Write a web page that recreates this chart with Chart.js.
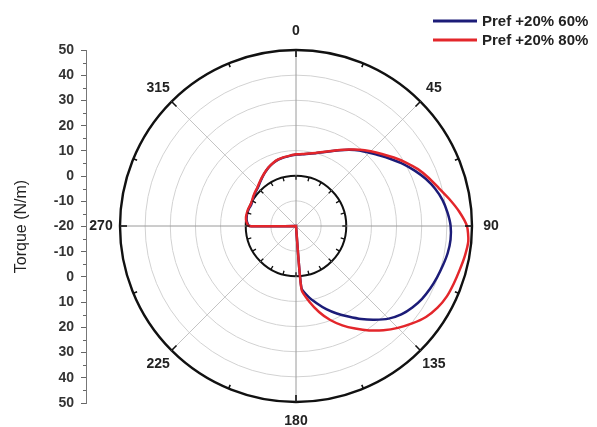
<!DOCTYPE html>
<html>
<head>
<meta charset="utf-8">
<script src="https://cdn.jsdelivr.net/npm/chart.js@4.4.0/dist/chart.umd.min.js"></script>
<style>
  html, body { margin: 0; padding: 0; background: #fff; }
  #wrap { width: 597px; height: 427px; }
</style>
</head>
<body>
<div id="wrap"><canvas id="c" width="597" height="427"></canvas></div>
<script>
// Rotor angle (degrees, clockwise from top)
const angles = [
  0, 5, 10, 15, 20, 25, 30, 35, 40, 45, 50, 55, 60, 65, 70, 75, 80, 85,
  90, 95, 100, 105, 110, 115, 120, 125, 130, 135, 140, 145, 150, 155, 160, 165, 170, 175,
  180, 185, 190, 195, 200, 205, 210, 215, 220, 225, 230, 235, 240, 245, 250, 255, 260, 265,
  270, 275, 280, 285, 290, 295, 300, 305, 310, 315, 320, 325, 330, 335, 340, 345, 350, 355
];

// Torque (N/m) for each angle
const pref60 = [
  8.4, 8.6, 9.2, 10.0, 11.2, 12.8, 14.8, 17.0, 19.2, 21.2, 23.6, 26.3, 29.3, 32.1, 34.9, 37.3, 39.2, 40.5,
  41.5, 41.7, 41.3, 40.5, 39.7, 38.9, 37.9, 36.5, 34.7, 32.1, 28.7, 25.2, 21.6, 18.4, 15.2, 11.8, 8.6, 4.7,
  -20, -20, -20, -20, -20, -20, -20, -20, -20, -20, -20, -20, -20, -20, -20, -20, -20, -20,
  -1.5, -0.4, 0.0, 0.0, 0.0, -0.3, 0.0, 0.5, 1.0, 1.5, 2.4, 3.5, 4.6, 5.7, 6.6, 7.3, 7.7, 8.0
];
const pref80 = [
  8.5, 8.7, 9.3, 10.1, 11.3, 12.9, 14.9, 17.1, 19.6, 22.0, 24.6, 27.5, 30.5, 33.5, 36.1, 38.7, 41.9, 45.2,
  48.0, 48.8, 48.2, 47.4, 46.8, 46.2, 45.0, 43.1, 40.3, 37.3, 34.1, 30.7, 27.1, 23.6, 19.8, 15.4, 10.6, 5.5,
  -20, -20, -20, -20, -20, -20, -20, -20, -20, -20, -20, -20, -20, -20, -20, -20, -20, -20,
  -1.3, -0.2, 0.2, 0.2, 0.2, 0.0, 0.2, 0.7, 1.2, 1.7, 2.6, 3.6, 4.7, 5.8, 6.7, 7.4, 7.8, 8.1
];

const seriesLabels = ['Pref +20% 60%', 'Pref +20% 80%'];
const angleTickLabels = [0, 45, 90, 135, 180, 225, 270, 315];
const radialTicks = [-20, -10, 0, 10, 20, 30, 40, 50];

const FONT = "'Liberation Sans', Arial, sans-serif";
Chart.defaults.font.family = FONT;

// Extra decoration: angular ticks, angle labels, stacked legend, minor axis ticks
const polarDecor = {
  id: 'polarDecor',
  afterDraw(chart) {
    const r = chart.scales.r;
    const y = chart.scales.y;
    const ctx = chart.ctx;
    const xc = r.xCenter, yc = r.yCenter;
    const rOuter = r.getDistanceFromCenterForValue(r.max);
    const rZero = r.getDistanceFromCenterForValue(0);
    ctx.save();
    ctx.strokeStyle = '#111';
    ctx.lineWidth = 1.6;
    // ticks on the outer rim, every 22.5 degrees
    for (let k = 0; k < 16; k++) {
      const a = k * 22.5 * Math.PI / 180;
      const len = (k % 2 === 0) ? 7 : 4;
      const s = Math.sin(a), c = Math.cos(a);
      ctx.beginPath();
      ctx.moveTo(xc + rOuter * s, yc - rOuter * c);
      ctx.lineTo(xc + (rOuter - len) * s, yc - (rOuter - len) * c);
      ctx.stroke();
    }
    // ticks on the zero ring, every 15 degrees
    ctx.lineWidth = 1.3;
    for (let k = 0; k < 24; k++) {
      const a = k * 15 * Math.PI / 180;
      const len = 4;
      const s = Math.sin(a), c = Math.cos(a);
      ctx.beginPath();
      ctx.moveTo(xc + rZero * s, yc - rZero * c);
      ctx.lineTo(xc + (rZero - len) * s, yc - (rZero - len) * c);
      ctx.stroke();
    }
    // angle labels outside the rim
    ctx.fillStyle = '#222';
    ctx.font = 'bold 14px ' + FONT;
    ctx.textAlign = 'center';
    ctx.textBaseline = 'middle';
    angleTickLabels.forEach(deg => {
      const idx = angles.indexOf(deg);
      const p = r.getPointPosition(idx, rOuter + 19);
      ctx.fillText(String(deg), p.x, p.y);
    });
    // minor ticks on the torque axis
    ctx.strokeStyle = '#666';
    ctx.lineWidth = 1;
    const xAxis = y.right;
    for (let t = -65; t <= 65; t += 10) {
      const py = Math.round(y.getPixelForValue(t)) + 0.5;
      ctx.beginPath();
      ctx.moveTo(xAxis, py);
      ctx.lineTo(xAxis - 3, py);
      ctx.stroke();
    }
    // stacked legend, top right
    const rows = [21, 40];
    chart.data.datasets.forEach((ds, i) => {
      const ly = rows[i];
      ctx.strokeStyle = ds.borderColor;
      ctx.lineWidth = 2.8;
      ctx.beginPath();
      ctx.moveTo(433, ly);
      ctx.lineTo(477, ly);
      ctx.stroke();
      ctx.fillStyle = '#222';
      ctx.font = 'bold 15px ' + FONT;
      ctx.textAlign = 'left';
      ctx.textBaseline = 'middle';
      ctx.fillText(ds.label, 482, ly + 1);
    });
    ctx.restore();
  }
};

new Chart(document.getElementById('c'), {
  type: 'radar',
  data: {
    labels: angles,
    datasets: [
      {
        label: seriesLabels[0],
        data: pref60,
        borderColor: '#1c1c78',
        borderWidth: 2.5,
        fill: false,
        pointRadius: 0,
        tension: 0.2,
        order: 1
      },
      {
        label: seriesLabels[1],
        data: pref80,
        borderColor: '#e3262b',
        borderWidth: 2.5,
        fill: false,
        pointRadius: 0,
        tension: 0.2,
        order: 0
      }
    ]
  },
  options: {
    responsive: false,
    animation: false,
    devicePixelRatio: 1,
    layout: { padding: { left: 0, right: 90, top: 50, bottom: 24 } },
    plugins: {
      legend: { display: false },
      tooltip: { enabled: false }
    },
    scales: {
      r: {
        min: radialTicks[0],
        max: radialTicks[radialTicks.length - 1],
        startAngle: 0,
        ticks: { display: false, stepSize: 10 },
        pointLabels: { display: false },
        grid: {
          circular: true,
          color: ctx => (ctx.tick && (ctx.tick.value === 0 || ctx.tick.value === 50)) ? '#111' : '#d2d2d2',
          lineWidth: ctx => {
            if (!ctx.tick) return 1;
            if (ctx.tick.value === 50) return 2.4;
            if (ctx.tick.value === 0) return 2;
            return 1;
          }
        },
        angleLines: {
          display: true,
          color: ctx => {
            if (ctx.index % 9 !== 0) return 'rgba(0,0,0,0)';
            return ctx.index % 18 === 0 ? '#9a9a9a' : '#c4c4c4';
          },
          lineWidth: 1
        }
      },
      y: {
        type: 'linear',
        position: 'left',
        min: -70,
        max: 70,
        afterFit: s => { s.width = 86; },
        ticks: {
          stepSize: 10,
          autoSkip: false,
          padding: 7,
          color: '#333',
          font: { size: 14, weight: 'bold' },
          callback: v => String(Math.abs(v) - 20)
        },
        grid: {
          drawOnChartArea: false,
          drawTicks: true,
          tickLength: 5,
          tickColor: '#666',
          tickWidth: 1
        },
        border: { display: true, color: '#777', width: 1 },
        title: {
          display: true,
          text: 'Torque (N/m)',
          color: '#222',
          font: { size: 16 },
          padding: { top: 12, bottom: 0 }
        }
      }
    }
  },
  plugins: [polarDecor]
});
</script>
</body>
</html>
